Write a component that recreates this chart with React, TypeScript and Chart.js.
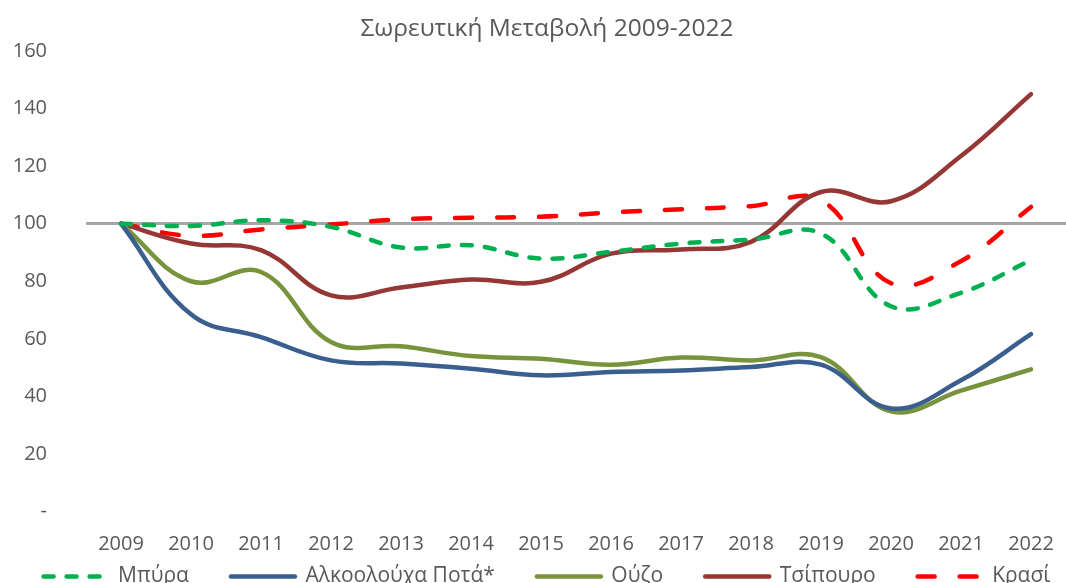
import React, { useEffect, useRef } from "react";
import { Chart, registerables } from "chart.js";

Chart.register(...registerables);

const years = ["2009", "2010", "2011", "2012", "2013", "2014", "2015", "2016", "2017", "2018", "2019", "2020", "2021", "2022"];
const beer = [100, 99.2, 101.2, 98.9, 91.7, 92.5, 87.9, 90.2, 93.1, 94.5, 96.6, 71.3, 76, 87.3];
const spirits = [100, 68.5, 60.6, 52.5, 51.4, 49.6, 47.3, 48.5, 49, 50.2, 51, 35.8, 45.6, 61.6];
const ouzo = [100, 80, 83.2, 58.9, 57.4, 54, 53.1, 51, 53.5, 52.5, 53.6, 34.8, 42, 49.4];
const tsipouro = [100, 93.1, 90.8, 75.1, 77.8, 80.6, 79.8, 89.6, 91, 93.7, 111, 107.8, 123.5, 145];
const wine = [100, 95.8, 98, 99.7, 101.5, 102.1, 102.4, 103.9, 105, 106.1, 108.2, 79.3, 87, 105.8];
const seriesNames = ["Μπύρα", "Αλκοολούχα Ποτά*", "Ούζο", "Τσίπουρο", "Κρασί"];
const yTicks = [0, 20, 40, 60, 80, 100, 120, 140, 160];

const FONT = "'Open Sans', 'Noto Sans', sans-serif";
const TEXT = "#595959";

export default function App() {
  const ref = useRef<HTMLCanvasElement | null>(null);
  useEffect(() => {
    if (!ref.current) return;
    const common = { borderWidth: 4.5, pointRadius: 0, tension: 0.4, fill: false, borderCapStyle: "round" as const, borderJoinStyle: "round" as const };
    const chart = new Chart(ref.current, {
      type: "line",
      data: {
        labels: years,
        datasets: [
          { ...common, label: seriesNames[0], data: beer, borderColor: "#00B050", backgroundColor: "#00B050", borderDash: [10, 13] },
          { ...common, label: seriesNames[1], data: spirits, borderColor: "#3A5F8F", backgroundColor: "#3A5F8F" },
          { ...common, label: seriesNames[2], data: ouzo, borderColor: "#77933C", backgroundColor: "#77933C" },
          { ...common, label: seriesNames[3], data: tsipouro, borderColor: "#953735", backgroundColor: "#953735" },
          { ...common, label: seriesNames[4], data: wine, borderColor: "#FF0000", backgroundColor: "#FF0000", borderDash: [17, 25] },
        ],
      },
      options: {
        animation: false,
        responsive: true,
        maintainAspectRatio: false,
        layout: { padding: 0 },
        plugins: {
          title: {
            display: true,
            text: "Σωρευτική Μεταβολή 2009-2022",
            color: TEXT,
            font: { family: FONT, size: 24.5, weight: "normal", lineHeight: 1.2 },
            padding: { top: 14, bottom: 7.6 },
          },
          legend: {
            position: "bottom",
            labels: {
              usePointStyle: true,
              pointStyle: "line",
              pointStyleWidth: 64,
              boxHeight: 21,
              color: TEXT,
              font: { family: FONT, size: 21 },
              padding: 42,
              generateLabels: (c: any) => {
                const items = (Chart.defaults.plugins.legend.labels as any).generateLabels(c);
                items.forEach((it: any, i: number) => {
                  const ds: any = c.data.datasets[i];
                  it.lineDash = ds.borderDash || [];
                  it.lineWidth = 4.5;
                  it.lineCap = "round";
                  it.strokeStyle = ds.borderColor;
                });
                return items;
              },
            },
          },
          tooltip: { enabled: false },
        },
        scales: {
          x: {
            offset: true,
            grid: { display: false, drawTicks: false },
            border: { display: false },
            ticks: { color: TEXT, font: { family: FONT, size: 20, lineHeight: 1.2 }, padding: -45, mirror: true, maxRotation: 0 },
            afterFit: (axis: any) => {
              axis.height = 12.5;
            },
          },
          y: {
            min: 0,
            max: 160,
            afterBuildTicks: (axis: any) => {
              axis.ticks = yTicks.map((v) => ({ value: v }));
            },
            afterFit: (axis: any) => {
              axis.width = 86;
            },
            grid: {
              drawTicks: false,
              color: (ctx: any) => (ctx.tick && ctx.tick.value === 100 ? "#A6A6A6" : "rgba(0,0,0,0)"),
              lineWidth: (ctx: any) => (ctx.tick && ctx.tick.value === 100 ? 3 : 0),
            },
            border: { display: false },
            ticks: {
              color: TEXT,
              font: { family: FONT, size: 20 },
              padding: 39,
              callback: (v: any) => (Number(v) === 0 ? "-" : String(v)),
            },
          },
          yRightSpace: {
            type: "linear",
            position: "right",
            display: true,
            grid: { display: false, drawTicks: false },
            border: { display: false },
            ticks: { display: false },
            afterFit: (axis: any) => {
              axis.width = 28;
            },
          },
        },
      },
    });
    return () => chart.destroy();
  }, []);
  return (
    <div style={{ position: "fixed", left: 0, top: 0, width: 1094, height: 597, background: "#fff" }}>
      <canvas ref={ref} />
    </div>
  );
}
